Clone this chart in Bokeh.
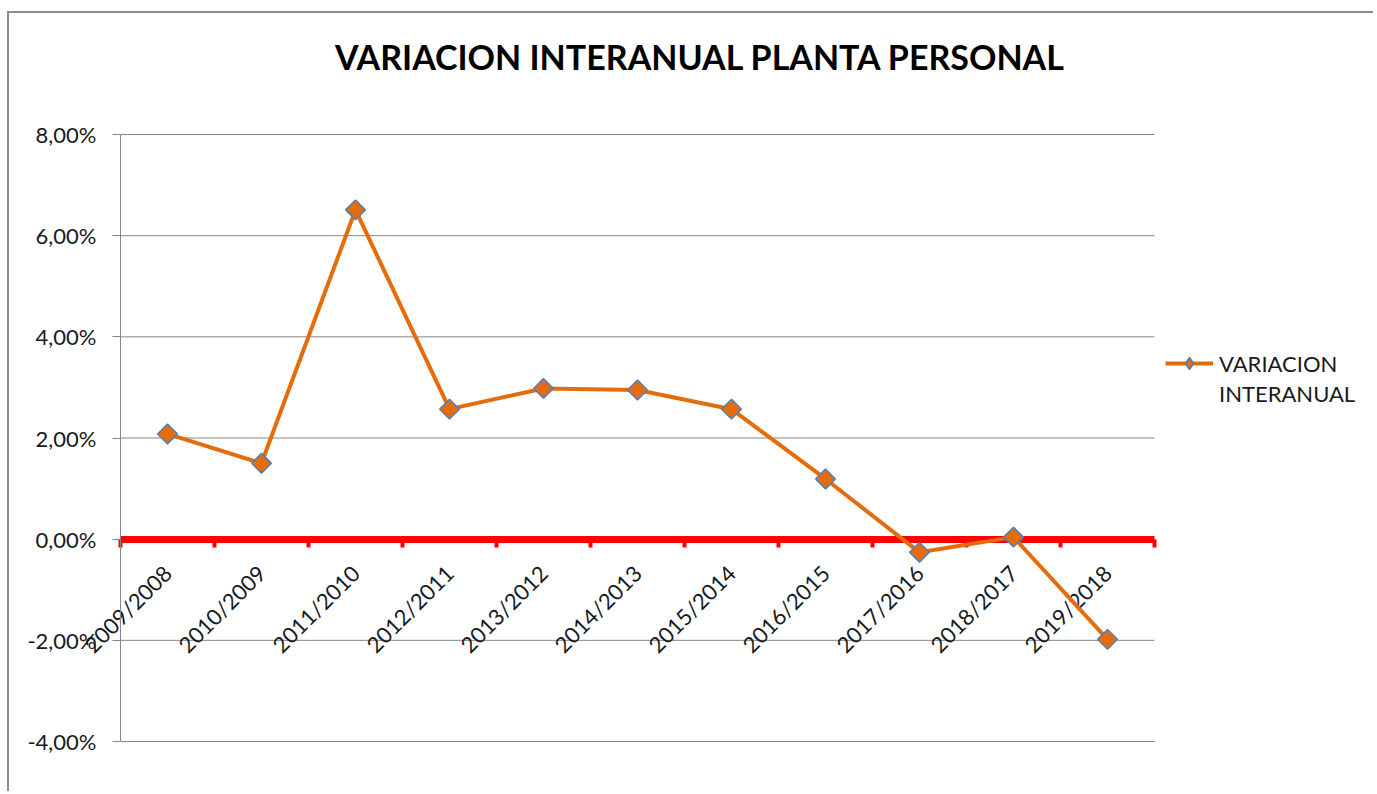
import numpy as np
from math import pi
from bokeh.plotting import figure
from bokeh.models import (ColumnDataSource, FixedTicker, Legend, LegendItem, LinearAxis,
                          Range1d, Label)
from bokeh.embed import file_html
from bokeh.resources import INLINE

categories = ["2009/2008", "2010/2009", "2011/2010", "2012/2011", "2013/2012", "2014/2013",
              "2015/2014", "2016/2015", "2017/2016", "2018/2017", "2019/2018"]
variacion = [2.08, 1.50, 6.51, 2.57, 2.98, 2.95, 2.57, 1.19, -0.26, 0.04, -1.98]
y_ticks = [-4, -2, 0, 2, 4, 6, 8]
y_tick_labels = ["-4,00%", "-2,00%", "0,00%", "2,00%", "4,00%", "6,00%", "8,00%"]
title_text = "VARIACION INTERANUAL PLANTA PERSONAL"
series_name = "VARIACION INTERANUAL"

FONT = "Lato"
ORANGE = "#E46C0A"
BLUE = "#4F81BD"
GRID = "#868686"
TXT = "#1a1a1a"

# ---- layout (pixels) ----
W, H = 1366, 780
PLOT_LEFT, PLOT_TOP, PLOT_W, PLOT_H = 111, 121, 1034, 607

n = len(categories)
xpos = [int(i) for i in range(n)]
bounds = [i - 0.5 for i in range(n + 1)]
y_lo, y_hi = y_ticks[0], y_ticks[-1]

x_per_px = n / PLOT_W
x_start = -0.5 - PLOT_LEFT * x_per_px
x_end = x_start + W * x_per_px
y_per_px = (y_hi - y_lo) / PLOT_H
y_end = y_hi + PLOT_TOP * y_per_px
y_start = y_end - H * y_per_px

def px_to_x(px):
    return x_start + px * x_per_px

def py_to_y(py):
    return y_end - py * y_per_px

src = ColumnDataSource(dict(x=xpos, y=variacion))
gsrc = ColumnDataSource(dict(x0=[-0.5] * len(y_ticks), x1=[n - 0.5] * len(y_ticks), y=y_ticks))

p = figure(width=W, height=H, x_range=Range1d(x_start, x_end), y_range=Range1d(y_start, y_end),
           output_backend="svg", toolbar_location=None, x_axis_location=None,
           y_axis_location=None, title=None, min_border=0)
p.styles = {"border-left": "2px solid #8c8c8c", "border-top": "2px solid #8c8c8c",
            "margin-top": "11px", "margin-left": "7px"}
p.outline_line_color = None
p.background_fill_color = "white"
p.border_fill_color = "white"
p.grid.visible = False

# horizontal gridlines limited to the plot area
p.segment("x0", "y", "x1", "y", source=gsrc, line_color=GRID, line_width=1)

# value axis
yaxis = LinearAxis(fixed_location=-0.5, bounds=(y_lo, y_hi), ticker=FixedTicker(ticks=y_ticks))
yaxis.major_label_overrides = {t: l for t, l in zip(y_ticks, y_tick_labels)}
yaxis.axis_line_color = GRID
yaxis.major_tick_line_color = GRID
yaxis.major_tick_out = 8
yaxis.major_tick_in = 0
yaxis.minor_tick_line_color = None
yaxis.major_label_standoff = 16
yaxis.major_label_text_font = FONT
yaxis.major_label_text_font_size = "22px"
yaxis.major_label_text_color = TXT
p.add_layout(yaxis, "left")

# category axis crossing at 0 (red thick line, ticks at category boundaries)
xaxis = LinearAxis(fixed_location=0, bounds=(-0.5, n - 0.5),
                   ticker=FixedTicker(ticks=xpos, minor_ticks=bounds))
xaxis.major_label_overrides = {i: c for i, c in zip(xpos, categories)}
xaxis.major_label_orientation = pi / 4
xaxis.axis_line_color = "#FF0000"
xaxis.axis_line_width = 7
xaxis.major_tick_line_color = None
xaxis.major_tick_out = 0
xaxis.major_tick_in = 0
xaxis.minor_tick_line_color = "#FF0000"
xaxis.minor_tick_line_width = 4
xaxis.minor_tick_out = 8
xaxis.minor_tick_in = 0
xaxis.major_label_standoff = 22
xaxis.major_label_text_font = FONT
xaxis.major_label_text_font_size = "22px"
xaxis.major_label_text_color = TXT
p.add_layout(xaxis, "below")

line_r = p.line("x", "y", source=src, line_color=ORANGE, line_width=4, level="overlay")
scat_r = p.scatter("x", "y", source=src, marker="square", angle=pi / 4, size=14,
                   fill_color=ORANGE, line_color=BLUE, line_width=1.5, level="overlay")
# legend key marker (diamond); zero size on the plot itself
leg_marker = p.scatter("x", "y", source=src, marker="diamond", size=0, fill_color=ORANGE,
                       line_color=BLUE, line_width=1.5)

words = series_name.split(" ")
legend = Legend(items=[LegendItem(label=words[0], renderers=[line_r, leg_marker]),
                       LegendItem(label=words[1], renderers=[])],
                location=(1156, 385), border_line_color=None, background_fill_alpha=0,
                padding=0, margin=0, spacing=0, glyph_width=48, glyph_height=30,
                label_standoff=6, label_text_font=FONT, label_text_font_size="22px",
                label_text_color=TXT)
p.add_layout(legend, "center")

# chart title
p.add_layout(Label(x=px_to_x(700 - 9), y=py_to_y(56 - 13), text=title_text,
                   text_align="center", text_baseline="middle", text_font=FONT,
                   text_font_style="bold", text_font_size="34px", text_color="black"))

open("out.html", "w").write(file_html(p, INLINE))
